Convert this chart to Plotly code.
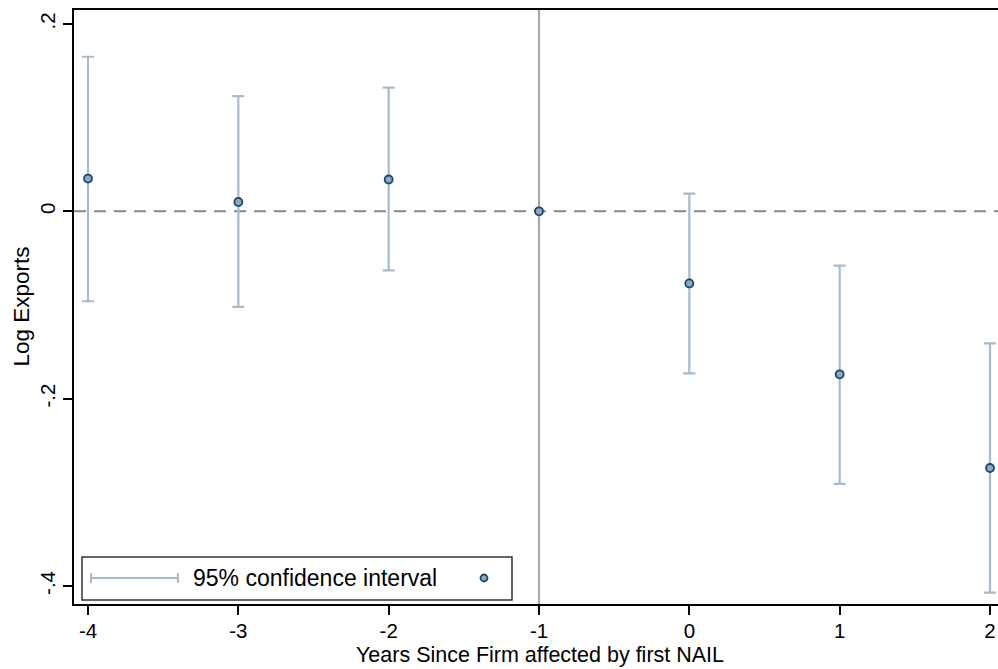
import plotly.graph_objects as go

years = [-4, -3, -2, -1, 0, 1, 2]
coef = [0.035, 0.010, 0.034, 0.0, -0.077, -0.174, -0.274]
ci_upper = [0.165, 0.123, 0.132, 0.0, 0.019, -0.058, -0.141]
ci_lower = [-0.096, -0.102, -0.063, 0.0, -0.173, -0.291, -0.407]
xticks = [-4, -3, -2, -1, 0, 1, 2]
yticks = [-0.4, -0.2, 0.0, 0.2]
ytick_labels = ["-.4", "-.2", "0", ".2"]
legend_label = "95% confidence interval"
x_title = "Years Since Firm affected by first NAIL"
y_title = "Log Exports"

W, H = 998, 669
L, T, R, B = 74, 10, 0, 65
pw, ph = W - L - R, H - T - B

def px(x):
    return (x - L) / pw

def py(y):
    return (H - B - y) / ph

CI_COLOR = "#A9BACD"
MK_FILL = "#91A7C0"
MK_LINE = "#1A476F"
FONT = "Liberation Sans, Arial, sans-serif"
FS = 20.5

fig = go.Figure()

has_ci = [u != l for u, l in zip(ci_upper, ci_lower)]
fig.add_trace(go.Scatter(
    x=[x for x, h in zip(years, has_ci) if h],
    y=[c for c, h in zip(coef, has_ci) if h],
    mode="markers",
    marker=dict(size=0.1, opacity=0),
    error_y=dict(
        type="data", symmetric=False,
        array=[u - c for u, c, h in zip(ci_upper, coef, has_ci) if h],
        arrayminus=[c - l for l, c, h in zip(ci_lower, coef, has_ci) if h],
        color=CI_COLOR, thickness=2.2, width=6,
    ),
    showlegend=False, hoverinfo="skip",
))
fig.add_trace(go.Scatter(
    x=years, y=coef, mode="markers",
    marker=dict(size=8, color=MK_FILL, line=dict(color=MK_LINE, width=1.8)),
    showlegend=False,
))

shapes = []
shapes.append(dict(type="line", xref="x", yref="paper", x0=-1, x1=-1, y0=0, y1=1,
                   line=dict(color="#A8A8A8", width=2.2), layer="below"))
shapes.append(dict(type="line", xref="paper", yref="y", x0=0, x1=1, y0=0, y1=0,
                   line=dict(color="#888888", width=2, dash="12px,8px"), layer="below"))
shapes.append(dict(type="rect", xref="paper", yref="paper",
                   x0=px(82), x1=px(512), y0=py(600), y1=py(557),
                   line=dict(color="#333333", width=1.5), fillcolor="white"))
ly = 578
shapes.append(dict(type="line", xref="paper", yref="paper", x0=px(91), x1=px(178),
                   y0=py(ly), y1=py(ly), line=dict(color=CI_COLOR, width=2)))
for xx in (91, 178):
    shapes.append(dict(type="line", xref="paper", yref="paper", x0=px(xx), x1=px(xx),
                       y0=py(ly - 5), y1=py(ly + 5), line=dict(color=CI_COLOR, width=2)))
shapes.append(dict(type="circle", xref="paper", yref="paper",
                   x0=px(480.5), x1=px(487.5), y0=py(ly + 3.5), y1=py(ly - 3.5),
                   fillcolor=MK_FILL, line=dict(color=MK_LINE, width=1.8)))

annotations = [
    dict(xref="paper", yref="paper", x=px(191), y=py(ly), xanchor="left",
         yanchor="middle", text=legend_label, showarrow=False,
         font=dict(family=FONT, size=23, color="black")),
    dict(xref="paper", yref="paper", x=px(540), y=py(669), xanchor="center",
         yanchor="bottom", text=x_title, showarrow=False,
         font=dict(family=FONT, size=21.5, color="black")),
    dict(xref="paper", yref="paper", x=px(6), y=py(307), xanchor="left",
         yanchor="middle", text=y_title, showarrow=False, textangle=-90,
         font=dict(family=FONT, size=22.5, color="black")),
]

fig.update_layout(
    width=W, height=H,
    margin=dict(l=L, r=R, t=T, b=B, pad=0),
    paper_bgcolor="white", plot_bgcolor="white",
    font=dict(family=FONT, color="black"),
    shapes=shapes, annotations=annotations,
    xaxis=dict(range=[-4 - 14 / 150.3, 2 + 8 / 150.3], tickvals=xticks,
               ticktext=[str(v) for v in xticks],
               showgrid=False, zeroline=False, showline=True, mirror=True,
               linecolor="black", linewidth=2, ticks="outside", ticklen=9,
               tickwidth=1.5, tickcolor="black", tickfont=dict(size=FS),
               ticklabelstandoff=-2),
    yaxis=dict(range=[-0.4 - 18 / 937.5, 0.2 + 14 / 937.5], tickvals=yticks,
               ticktext=ytick_labels, tickangle=-90,
               showgrid=False, zeroline=False, showline=True, mirror=False,
               linecolor="black", linewidth=2, ticks="outside", ticklen=9,
               tickwidth=1.5, tickcolor="black", tickfont=dict(size=FS)),
)

fig.write_html("out.html")
